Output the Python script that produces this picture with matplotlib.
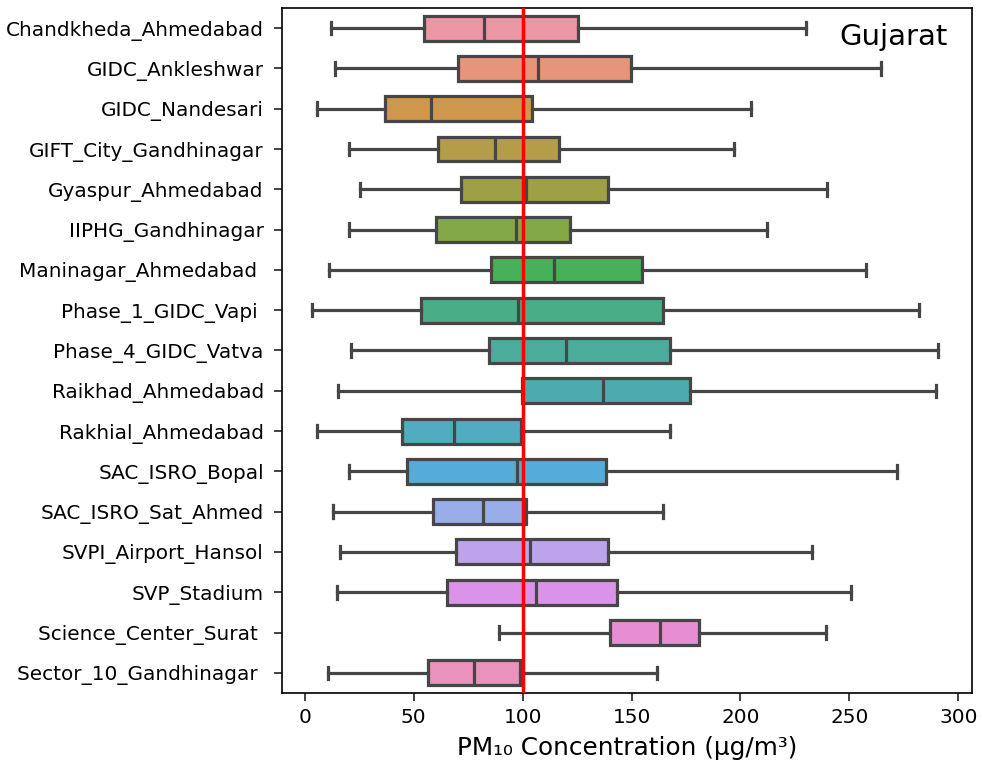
import matplotlib
matplotlib.use("Agg")
import matplotlib.pyplot as plt
import seaborn as sns

stations = [
    "Chandkheda_Ahmedabad", "GIDC_Ankleshwar", "GIDC_Nandesari",
    "GIFT_City_Gandhinagar", "Gyaspur_Ahmedabad", "IIPHG_Gandhinagar",
    "Maninagar_Ahmedabad ", "Phase_1_GIDC_Vapi ", "Phase_4_GIDC_Vatva",
    "Raikhad_Ahmedabad", "Rakhial_Ahmedabad", "SAC_ISRO_Bopal",
    "SAC_ISRO_Sat_Ahmed", "SVPI_Airport_Hansol", "SVP_Stadium",
    "Science_Center_Surat ", "Sector_10_Gandhinagar ",
]
whislo = [11.9, 13.9, 5.4, 20.4, 25.2, 20.4, 11.0, 3.1, 21.0, 15.4, 5.4, 20.2, 12.9, 16.2, 14.8, 89.0, 10.4]
q1 = [54.5, 70.1, 36.6, 61.2, 71.8, 60.3, 85.5, 53.5, 84.7, 99.8, 44.5, 47.0, 58.7, 69.3, 65.1, 140.2, 56.6]
med = [82.4, 106.9, 57.8, 87.4, 101.5, 96.7, 114.4, 98.0, 120.0, 136.7, 68.6, 97.4, 81.8, 103.4, 106.1, 163.1, 77.6]
q3 = [125.2, 149.6, 104.4, 116.9, 139.2, 121.9, 154.8, 164.3, 167.7, 176.6, 99.2, 138.1, 101.3, 139.0, 143.1, 181.0, 98.8]
whishi = [229.9, 264.6, 204.9, 197.0, 239.7, 212.0, 257.5, 281.9, 290.8, 290.0, 167.5, 272.1, 164.3, 232.8, 250.9, 239.4, 161.8]
threshold = 100
region = "Gujarat"
xlabel = "PM₁₀ Concentration (µg/m³)"

colors = [sns.desaturate(c, 0.75) for c in sns.husl_palette(len(stations), l=0.7)]
line_color = "#464646"

fig = plt.figure(figsize=(9.82, 7.66), dpi=100)
ax = fig.add_axes([0.287, 0.0953, 0.703, 0.8943])

stats = []
for i, name in enumerate(stations):
    stats.append(dict(label=name, whislo=whislo[i], q1=q1[i], med=med[i],
                      q3=q3[i], whishi=whishi[i], fliers=[]))

lw = 2.3
bp = ax.bxp(stats, positions=list(range(len(stations))), vert=False,
            widths=0.62, patch_artist=True, showfliers=False,
            boxprops=dict(edgecolor=line_color, linewidth=lw),
            medianprops=dict(color=line_color, linewidth=lw),
            whiskerprops=dict(color=line_color, linewidth=lw),
            capprops=dict(color=line_color, linewidth=lw), capwidths=0.31)
for patch, c in zip(bp["boxes"], colors):
    patch.set_facecolor(c)

ax.axvline(threshold, color="red", linewidth=2.5, zorder=5)

ax.set_ylim(len(stations) - 0.5, -0.5)
ax.set_xlim(-10.6, 306.4)
ax.set_xticks([0, 50, 100, 150, 200, 250, 300])
ax.tick_params(axis="both", labelsize=14.4, length=6, width=1.2, color="#222222", pad=5)
ax.tick_params(axis="y", pad=7)
ax.set_yticks(range(len(stations)))
ax.set_yticklabels(stations)
for s in ax.spines.values():
    s.set_linewidth(1.2)
ax.set_xlabel(xlabel, fontsize=17.8, labelpad=6)
ax.text(0.965, 0.978, region, transform=ax.transAxes, ha="right", va="top", fontsize=21)

fig.savefig("out.png", dpi=100)
